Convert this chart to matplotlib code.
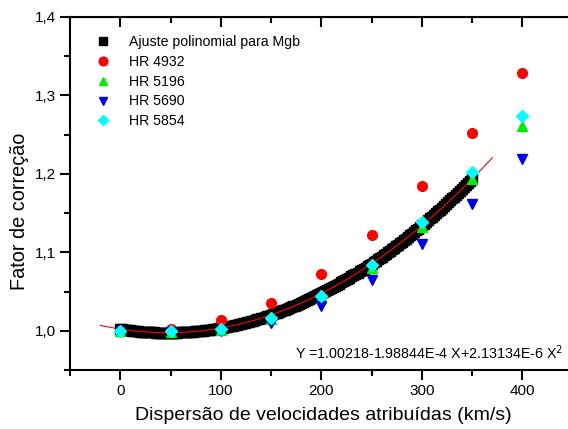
import numpy as np
import matplotlib.pyplot as plt
from matplotlib.ticker import MultipleLocator, FuncFormatter

plt.rcParams['font.family'] = ['Liberation Sans', 'DejaVu Sans']

# velocity dispersion (km/s)
sigma = [0, 50, 100, 150, 200, 250, 300, 350, 400]

# correction factors per star
hr4932 = [1.000, 1.002, 1.014, 1.035, 1.072, 1.122, 1.184, 1.252, 1.329]
hr5196 = [1.000, 0.999, 1.001, 1.015, 1.042, 1.080, 1.132, 1.193, 1.261]
hr5690 = [0.998, 0.999, 1.000, 1.010, 1.032, 1.065, 1.110, 1.161, 1.219]
hr5854 = [1.000, 1.000, 1.002, 1.016, 1.044, 1.084, 1.139, 1.203, 1.274]

# polynomial fit coefficients for Mgb (c0 + c1*X + c2*X^2)
coef = [1.00218, -1.98844e-4, 2.13134e-6]
fit_range = [0, 350]      # sampled fit points
line_range = [-20, 370]   # drawn regression line

fig = plt.figure(figsize=(5.68, 4.29), dpi=100)
ax = fig.add_axes([0.1232, 0.1375, 0.885, 0.823])

xs = np.arange(fit_range[0], fit_range[1] + 1, 2)
ax.plot(xs, np.polyval(coef[::-1], xs), 's', color='black', markersize=6.5,
        label='Ajuste polinomial para Mgb', zorder=2)

xl = np.linspace(line_range[0], line_range[1], 200)
ax.plot(xl, np.polyval(coef[::-1], xl), '-', color='red', lw=0.8, zorder=3)

ax.plot(sigma, hr4932, 'o', color='red', markersize=7, label='HR 4932', zorder=4)
ax.plot(sigma, hr5196, '^', color='#00ee00', markersize=7, label='HR 5196', zorder=4)
ax.plot(sigma, hr5690, 'v', color='#0000ee', markersize=7, label='HR 5690', zorder=4)
ax.plot(sigma, hr5854, 'D', color='cyan', markersize=6, label='HR 5854', zorder=5)

ax.set_xlim(-50, 450)
ax.set_ylim(0.95, 1.4)

ax.xaxis.set_major_locator(MultipleLocator(100))
ax.xaxis.set_minor_locator(MultipleLocator(50))
ax.yaxis.set_major_locator(MultipleLocator(0.1))
ax.yaxis.set_minor_locator(MultipleLocator(0.05))
ax.yaxis.set_major_formatter(FuncFormatter(lambda v, p: f'{v:.1f}'.replace('.', ',')))

ax.tick_params(axis='both', which='both', direction='out', width=1.5,
               labelsize=11, top=False, right=False)
ax.tick_params(which='major', length=7)
ax.tick_params(which='minor', length=4)
ax.tick_params(axis='x', which='major', pad=3)
ax.tick_params(axis='y', which='major', pad=3)
for s in ax.spines.values():
    s.set_linewidth(1.5)

# inward ticks on the top and right spines
top = ax.secondary_xaxis('top')
top.xaxis.set_major_locator(MultipleLocator(100))
top.xaxis.set_minor_locator(MultipleLocator(50))
top.tick_params(which='both', direction='in', labeltop=False, width=1.5)
top.tick_params(which='major', length=7)
top.tick_params(which='minor', length=4)
right = ax.secondary_yaxis('right')
right.yaxis.set_major_locator(MultipleLocator(0.1))
right.yaxis.set_minor_locator(MultipleLocator(0.05))
right.tick_params(which='both', direction='in', labelright=False, width=1.5)

ax.set_xlabel('Dispersão de velocidades atribuídas (km/s)', fontsize=14)
ax.xaxis.set_label_coords(0.504, -0.105)
ax.set_ylabel('Fator de correção', fontsize=14.3)
ax.yaxis.set_label_coords(-0.082, 0.45)

ax.legend(loc='upper left', frameon=False, fontsize=10.2, handletextpad=0.8,
          labelspacing=0.42, borderaxespad=0.6, bbox_to_anchor=(0.01, 0.99),
          markerscale=0.9)

ax.text(0.982, 0.05, 'Y =1.00218-1.98844E-4 X+2.13134E-6 X$^2$',
        transform=ax.transAxes, ha='right', va='center', fontsize=10.3)

fig.savefig('out.png', dpi=100)
